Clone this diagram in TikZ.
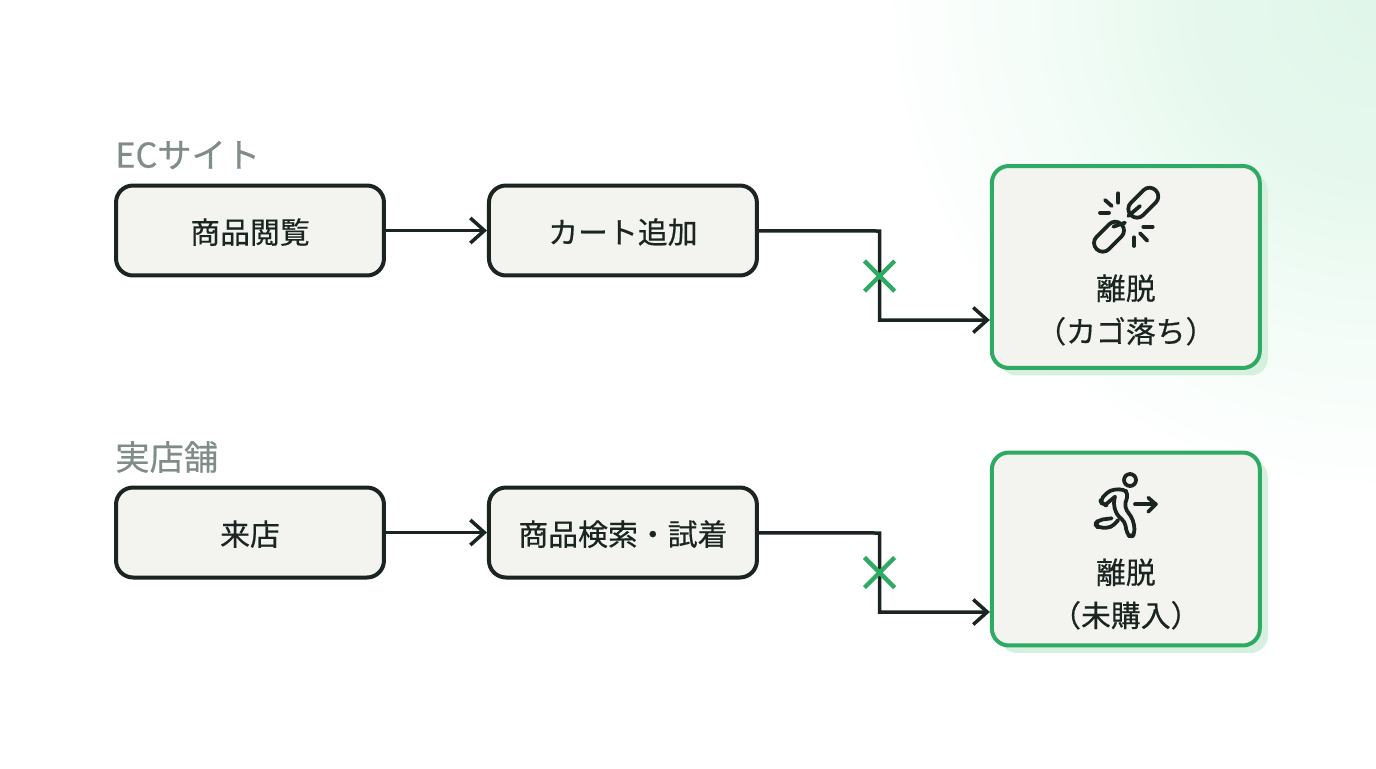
\documentclass[tikz,border=0pt]{standalone}
\usepackage{fontspec}
\setmainfont{Noto Sans CJK JP}[FakeBold=0.45]
\usetikzlibrary{arrows.meta,calc,positioning,shadows,shapes.misc}
\definecolor{inkdark}{HTML}{1A2420}
\definecolor{boxfill}{HTML}{F3F3EF}
\definecolor{exitgreen}{HTML}{2EAA62}
\definecolor{shadegreen}{HTML}{D6F0DF}
\definecolor{labelgray}{HTML}{808C87}
\pgfdeclareradialshading{cornerglow}{\pgfpointorigin}{
  rgb(0bp)=(0.88,0.965,0.915);
  rgb(8bp)=(0.905,0.975,0.935);
  rgb(14bp)=(0.955,0.99,0.97);
  rgb(21bp)=(1,1,1);
  rgb(50bp)=(1,1,1)
}
\tikzset{stepbox/.style={
        draw=inkdark,
        fill=boxfill,
        line width=0.08cm,
        rounded corners=0.34cm,
        minimum width=5.36cm,
        minimum height=1.8cm,
        font=\fontsize{17}{20}\selectfont,
        text height=16.5pt,
        text depth=1.8pt,
        text=inkdark,
    },
    exitbox/.style={
        draw=exitgreen,
        fill=boxfill,
        line width=0.08cm,
        rounded corners=0.34cm,
        minimum width=5.36cm,
        drop shadow={shadow xshift=0.16cm,shadow yshift=-0.15cm,fill=shadegreen,opacity=1},
    },
    exittext/.style={
        align=center,
        font=\fontsize{17}{24.5}\selectfont,
        text=inkdark,
    },
    rowlabel/.style={
        anchor=west,
        inner sep=0pt,
        font=\fontsize{19.5}{22}\selectfont,
        text=labelgray,
    },
    flow/.style={
        draw=inkdark,
        line width=0.07cm,
        -{Straight Barb[length=0.28cm,width=0.5cm,line width=0.07cm]},
    },
    stopmark/.style={
        cross out,
        draw=exitgreen,
        line width=0.085cm,
        minimum size=0.52cm,
        inner sep=0pt,
    },
    icon/.style={
        draw=inkdark,
        line width=0.075cm,
        line cap=round,
        line join=round,
    },
}

\begin{document}
\begin{tikzpicture}[x=0.02cm,y=-0.02cm,node distance=7.46cm,on grid]
  \useasboundingbox (0,0) rectangle (1376,768);
  \begin{scope}
    \clip (0,0) rectangle (1376,768);
    \path[shading=cornerglow] (776,-600) rectangle (1976,600);
  \end{scope}

  \node[stepbox] (browse) at (250,230.5) {商品閲覧};
  \node[stepbox] (cart) [right=of browse] {カート追加};
  \node[exitbox,minimum height=4.04cm] (exitec) [below right=0.73cm and 10.06cm of cart] {};
  \node[stepbox] (visit) at (250,532.5) {来店};
  \node[stepbox] (search) [right=of visit] {商品検索・試着};
  \node[exitbox,minimum height=3.86cm] (exitstore) [below right=0.33cm and 10.06cm of search] {};

  \node[rowlabel] (eclabel) at (115,155) {ECサイト};
  \node[rowlabel] (storelabel) at (115,457) {実店舗};
  \node[exittext] (exitectext) at ($(exitec)+(0,43)$) {離脱\\（カゴ落ち）};
  \node[exittext] (exitstoretext) at ($(exitstore)+(0,45)$) {離脱\\（未購入）};

  \coordinate (ecin) at (exitec.west |- 0,320);
  \coordinate (storein) at (exitstore.west |- 0,612);
  \coordinate (ecturn) at (879.5,231);
  \coordinate (storeturn) at (879.5,533);
  \path[flow] (browse) -- (cart);
  \path[flow] (visit) -- (search);
  \path[flow] (cart) -- (ecturn) |- (ecin);
  \path[flow] (search) -- (storeturn) |- (storein);
  \node[stopmark] (ecstop) at (879.5,276) {};
  \node[stopmark] (storestop) at (879.5,572.5) {};

  % broken chain
  \draw[icon,rounded corners=0.17cm,rotate around={45:(1143.3,202.7)}] (1125.8,194) rectangle (1160.8,211.4);
  \draw[icon,rounded corners=0.17cm,rotate around={45:(1109,236.7)}] (1091.5,228) rectangle (1126.5,245.4);
  \draw[icon] (1128.3,216) -- (1140,206);
  \draw[icon] (1125,222.7) -- (1113.3,226.7);
  \draw[icon] (1118.3,193.3) -- (1118.3,202.7);
  \draw[icon] (1105,200) -- (1111.7,206);
  \draw[icon] (1100,212.7) -- (1109,212.7);
  \draw[icon] (1143.3,226.7) -- (1152.7,226.7);
  \draw[icon] (1140,233.3) -- (1147.3,240.7);
  \draw[icon] (1134,237.3) -- (1134,246);

  % runner
  \draw[icon] (1130,480) circle (6);
  \draw[icon,rounded corners=2.5] (1105,505) -- (1102.3,504.3) -- (1100,500) -- (1110,490) -- (1123.3,489) -- (1128.3,493.3) -- (1124.3,506.7) -- (1133.3,520) -- (1135,533.3) -- (1131,537.7) -- (1126.7,533.3) -- (1125,521.7) -- (1116.7,515) -- (1113.3,503.3) -- (1115,496.7);
  \draw[icon] (1105,505) -- (1115,496.7);
  \draw[icon,rounded corners=2.5] (1111.7,518.3) -- (1098.3,520) -- (1095,524.3) -- (1098.3,527.7) -- (1111,527.7) -- (1118.3,520);
  \draw[icon] (1135,504.3) -- (1155.7,504.3);
  \draw[icon] (1148.3,497.7) -- (1155.7,504.3) -- (1148.3,511.7);
\end{tikzpicture}
\end{document}
